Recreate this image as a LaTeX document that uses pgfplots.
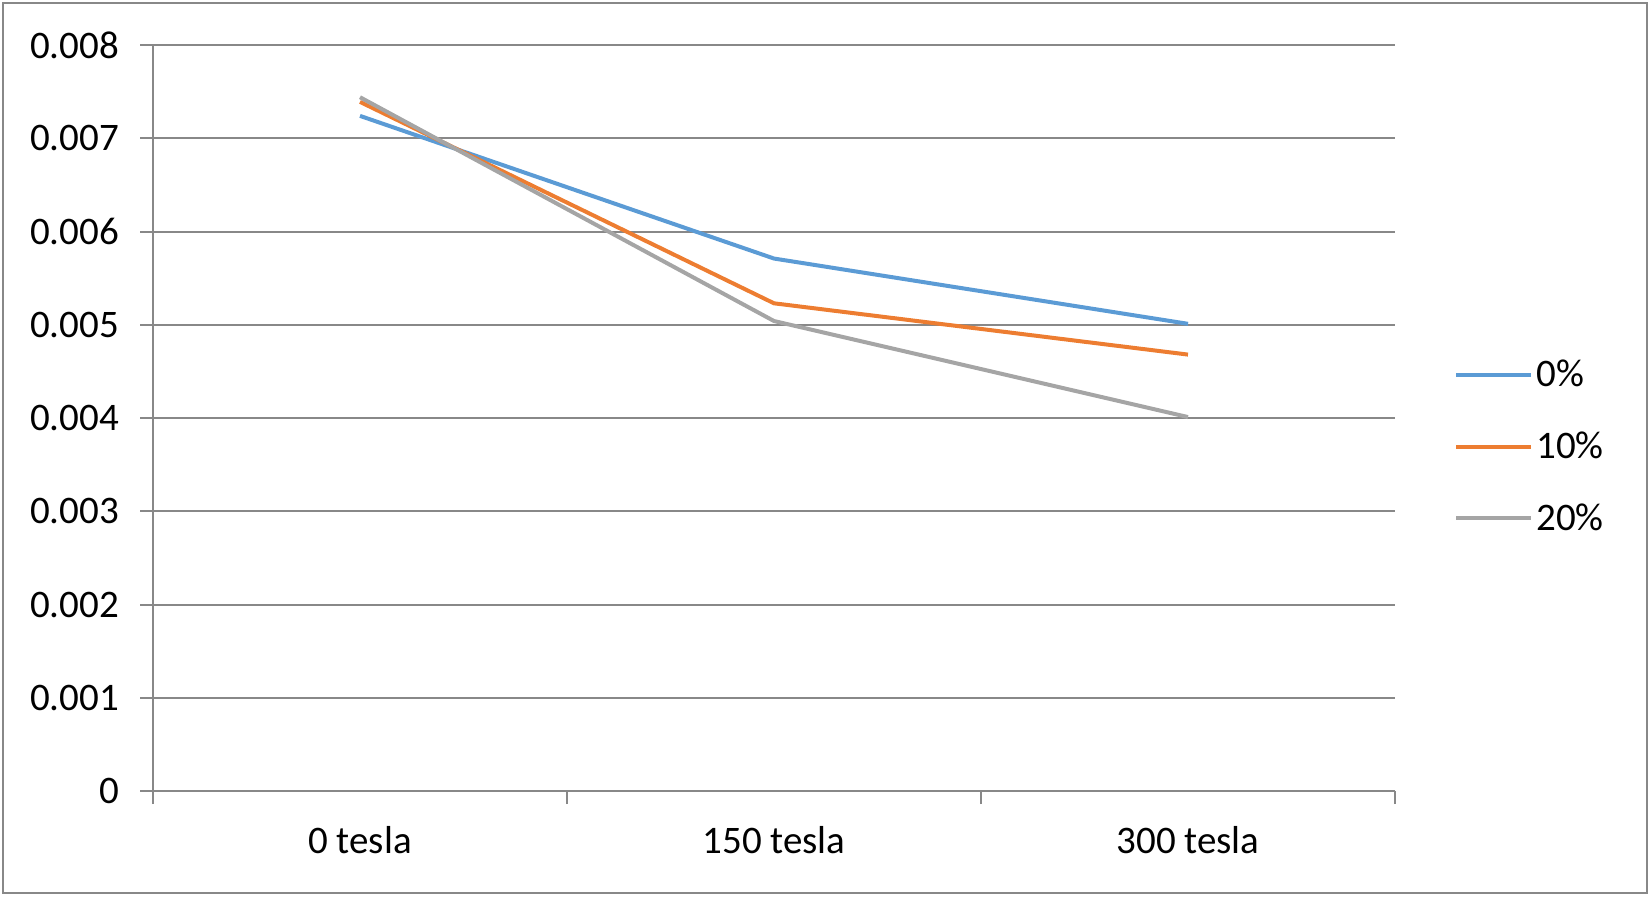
\documentclass[border=0pt]{standalone}
\usepackage{fontspec}
\setmainfont{Carlito}
\usepackage{pgfplots}
\pgfplotsset{compat=1.18}
\definecolor{sblue}{HTML}{5B9BD5}
\definecolor{sorange}{HTML}{ED7D31}
\definecolor{sgray}{HTML}{A5A5A5}
\definecolor{gridc}{RGB}{136,136,136}
\begin{document}
\begin{tikzpicture}
\useasboundingbox (0,0) rectangle (825pt,448pt);
\draw[gridc, line width=1pt] (1.5pt,1.5pt) rectangle (823.5pt,446.5pt);
\begin{axis}[
  at={(76.5pt,52.5pt)}, anchor=south west,
  scale only axis, width=621pt, height=373pt,
  xmin=-0.5, xmax=2.5, ymin=0, ymax=0.008,
  axis x line*=bottom, axis y line*=left,
  axis line style={gridc, line width=1pt},
  xtick={-0.5,0.5,1.5,2.5}, xticklabels={},
  extra x ticks={0,1,2}, extra x tick labels={0 tesla,150 tesla,300 tesla},
  extra x tick style={major tick length=0pt, grid=none},
  ytick={0,0.001,0.002,0.003,0.004,0.005,0.006,0.007,0.008},
  yticklabels={0,0.001,0.002,0.003,0.004,0.005,0.006,0.007,0.008},
  scaled y ticks=false,
  tick style={gridc, line width=1pt},
  tick align=outside, major tick length=6.5pt,
  ymajorgrids, grid style={gridc, line width=1pt},
  ticklabel style={font=\fontsize{19.5}{23}\selectfont},
  yticklabel style={xshift=-7pt},
  xticklabel style={yshift=-14pt},
  clip=false,
  legend style={at={(axis description cs:1,0.4615)}, anchor=west, xshift=29.5pt,
    draw=none, fill=none, inner sep=0pt, row sep=18pt,
    font=\fontsize{19.5}{23}\selectfont, nodes={inner sep=1.5pt}},
  legend cell align=left,
  legend image code/.code={\draw[#1] (0pt,0pt) -- (37.5pt,0pt);},
]
\addplot[sblue, line width=2pt] coordinates {(0,0.00724) (1,0.00571) (2,0.00501)};
\addlegendentry{0\%}
\addplot[sorange, line width=2pt] coordinates {(0,0.00739) (1,0.00523) (2,0.00468)};
\addlegendentry{10\%}
\addplot[sgray, line width=2pt] coordinates {(0,0.00744) (1,0.00504) (2,0.00401)};
\addlegendentry{20\%}
\end{axis}
\end{tikzpicture}
\end{document}
